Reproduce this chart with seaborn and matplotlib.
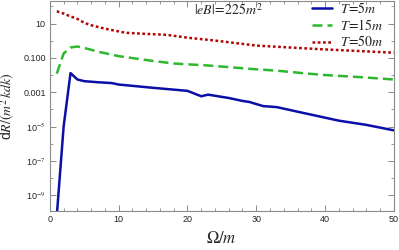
import numpy as np
import pandas as pd
import seaborn as sns
import matplotlib
matplotlib.use("Agg")
import matplotlib.pyplot as plt
from matplotlib.lines import Line2D
from matplotlib.ticker import FixedLocator, NullFormatter

sns.set_style("ticks")
plt.rcParams["mathtext.fontset"] = "stix"
plt.rcParams["font.family"] = ["Liberation Sans", "DejaVu Sans"]

# T = 5m
omega_5 = [1, 2, 3, 4, 5, 7, 9, 10, 15, 20, 22, 23, 26, 28, 29, 31, 33, 37, 42, 46, 50]
rate_5 = [6e-11, 1e-5, 1.3e-2, 5.5e-3, 4.4e-3, 3.8e-3, 3.4e-3, 2.8e-3, 1.8e-3, 1.2e-3,
          5.8e-4, 7.2e-4, 4.6e-4, 3.1e-4, 2.7e-4, 1.55e-4, 1.35e-4, 6.0e-5, 2.2e-5,
          1.25e-5, 6.0e-6]
# T = 15m
omega_15 = [1, 2, 3, 4, 5, 7, 10, 15, 18, 23, 26, 29, 33, 37, 40, 45, 50]
rate_15 = [1.2e-2, 0.18, 0.4, 0.46, 0.38, 0.23, 0.126, 0.066, 0.047, 0.036, 0.029,
           0.023, 0.018, 0.0126, 0.010, 0.0076, 0.0055]
# T = 50m
omega_50 = [1, 2, 3, 4, 5, 6, 8, 11, 14, 17, 20, 24, 30, 35, 40, 45, 50]
rate_50 = [52, 38, 26, 18.6, 11, 8, 5, 2.9, 2.5, 2.2, 1.5, 1.02, 0.52, 0.4, 0.31, 0.25, 0.2]

labels = ["$T\\!=\\!5m$", "$T\\!=\\!15m$", "$T\\!=\\!50m$"]
colors = ["#0a0fa8", "#2db82d", "#b00808"]
styles = ["-", (0, (4, 2)), (0, (1.1, 1.0))]

fig = plt.figure(figsize=(3.99, 2.5), dpi=100)
ax = fig.add_axes([0.125, 0.156, 0.862, 0.842])

series = [(omega_5, rate_5), (omega_15, rate_15), (omega_50, rate_50)]
for (x, y), c, ls in zip(series, colors, styles):
    df = pd.DataFrame({"omega": x, "rate": y})
    sns.lineplot(data=df, x="omega", y="rate", ax=ax, color=c, lw=1.8,
                 linestyle=ls, legend=False)

ax.set_yscale("log")
ax.set_xlim(0, 50)
ax.set_ylim(1.2e-10, 2.2e2)

major = [1e1, 1e-1, 1e-3, 1e-5, 1e-7, 1e-9]
major_labels = ["10", "0.100", "0.001", "10$^{-5}$", "10$^{-7}$", "10$^{-9}$"]
ax.yaxis.set_major_locator(FixedLocator(major))
ax.set_yticklabels(major_labels)
ax.yaxis.set_minor_locator(FixedLocator([10.0 ** k for k in range(-10, 3)]))
ax.yaxis.set_minor_formatter(NullFormatter())
ax.set_xticks([0, 10, 20, 30, 40, 50])
ax.set_xticks(np.arange(0, 51, 2), minor=True)

gray = "#8a8a8a"
for s in ax.spines.values():
    s.set_color(gray)
    s.set_linewidth(0.8)
ax.tick_params(which="both", direction="in", top=True, right=True, color=gray,
               labelsize=6.5, pad=3)
ax.tick_params(which="major", length=4, width=0.7)
ax.tick_params(which="minor", length=2.5, width=0.6)

ax.set_xlabel("$\\Omega/m$", fontsize=12, labelpad=4)
ax.set_ylabel("d$R/(m^2\\,kdk)$", fontsize=10)
ax.yaxis.set_label_coords(-0.095, 0.5)

ax.text(0.52, 0.955, "$|eB|\\!=\\!225m^2$", transform=ax.transAxes,
        fontsize=10, ha="center", va="center")

handles = [Line2D([], [], color=c, lw=1.8, linestyle=ls) for c, ls in zip(colors, styles)]
ax.legend(handles, labels, loc="upper right", frameon=False, fontsize=10,
          handlelength=1.4, handletextpad=0.6, labelspacing=0.12,
          borderaxespad=0.1, bbox_to_anchor=(0.99, 1.03))

fig.savefig("out.png", dpi=100)
